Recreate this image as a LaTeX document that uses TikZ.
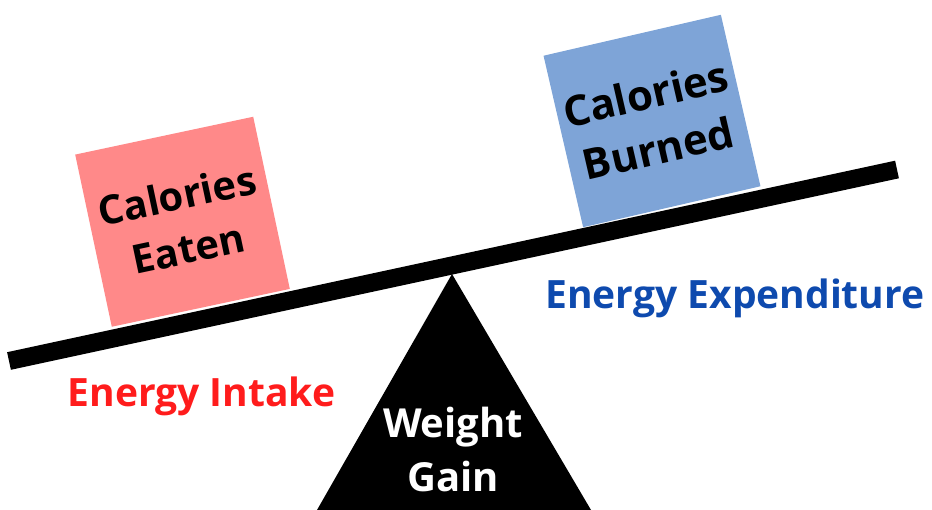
\documentclass[tikz,border=0pt]{standalone}
\usepackage{fontspec}
\setmainfont{Open Sans}
\usepackage{xcolor}
\usepackage{tikz}
\usetikzlibrary{positioning,calc}

\definecolor{eatenpink}{RGB}{255,137,137}
\definecolor{burnedblue}{RGB}{126,164,215}
\definecolor{intakered}{RGB}{255,28,28}
\definecolor{spendblue}{RGB}{14,74,174}

\begin{document}
\begin{tikzpicture}[x=1pt,y=-1pt,
	weightbox/.style={minimum width=182pt,minimum height=176pt,inner sep=0pt,align=center,font=\fontsize{40}{54}\selectfont\bfseries},
	side/.style={anchor=base,font=\fontsize{39}{50}\selectfont\bfseries}]
		\useasboundingbox (0,0) rectangle (932,510);
		\path (9,361) coordinate (L)
		(897,169.5) coordinate (R)
		(452,274) coordinate (T)
		(317,510) coordinate (BL)
		(591,510) coordinate (BR);
		\node[weightbox,fill=eatenpink,rotate=12] (eaten) at (182.5,221.75) {Calories\\Eaten};
		\node[weightbox,fill=burnedblue,rotate=13,font=\fontsize{42}{56}\selectfont\bfseries] (burned) at (652,121) {Calories\\Burned};
		\fill (T) -- (BL) -- (BR) -- cycle;
		\draw [line width=18pt] (L) -- (R);
		\node[align=center,text=white,font=\fontsize{40}{54}\selectfont\bfseries] (gain) at (453,449.5) {Weight\\Gain};
		\node[side,text=intakered] (intake) at (201.5,406.7) {Energy Intake};
		\node[side,text=spendblue] (expenditure) at (735,309) {Energy Expenditure};
	\end{tikzpicture}
\end{document}
